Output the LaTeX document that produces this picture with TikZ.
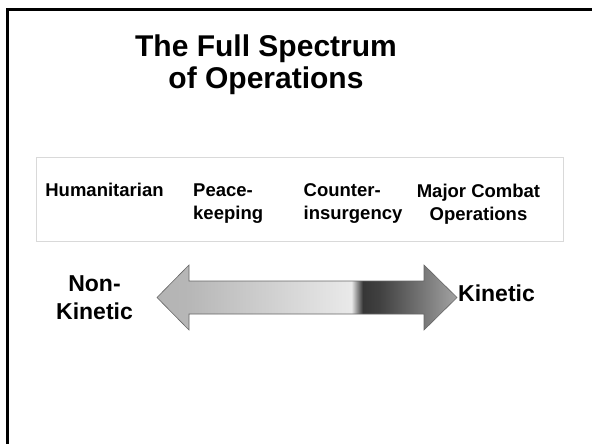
\documentclass[tikz,border=0pt]{standalone}
\usepackage{fontspec}
\setmainfont{Liberation Sans}
\usepackage{xcolor}
\usepackage{tikz}
\usetikzlibrary{positioning,calc}

\definecolor{headleft}{HTML}{B3B3B3}
\definecolor{shaftlight}{HTML}{E8E8E8}
\definecolor{shaftdark}{HTML}{363636}
\definecolor{shaftmid}{HTML}{787878}
\definecolor{headright}{HTML}{A3A3A3}
\definecolor{boxline}{HTML}{D9D9D9}

% horizontal shading, the path maps onto 25bp--75bp
\pgfdeclarehorizontalshading{spectrum}{100bp}{color(0bp)=(headleft); color(25bp)=(headleft); color(30.4bp)=(headleft!95!white); color(56.6bp)=(shaftlight); color(57.4bp)=(shaftlight!95!white); color(59.3bp)=(shaftdark); color(62bp)=(shaftdark!95!white); color(69.5bp)=(shaftmid); color(75bp)=(headright); color(100bp)=(headright)}

\begin{document}
\begin{tikzpicture}[x=1pt, y=-1pt,
    title/.style={font=\fontsize{30}{31.5}\selectfont\bfseries, align=center, inner sep=0},
    phase/.style={font=\fontsize{18.5}{23}\selectfont\bfseries, inner sep=0},
    effect/.style={font=\fontsize{23}{28}\selectfont\bfseries, align=center, inner sep=0}]
    \useasboundingbox (0,0) rectangle (592,444);

    % Slide frame (clipped on right and bottom)
    \draw[line width=3pt] (7.5,444) -- (7.5,10) -- (592,10);

    % Title
    \node[title] (heading) at (266,64.5) {The Full Spectrum\\of Operations};

    % Operation types
    \draw[boxline, line width=0.8pt] (36,157) rectangle (563,241);
    \node[phase] (humanitarian) at (104.5,190) {Humanitarian};
    \node[phase, align=left, anchor=west] (peace) at (193,204) {Peace-\\keeping};
    \node[phase, align=left, anchor=west] (counter) at (303.5,204) {Counter-\\insurgency};
    \node[phase, align=center] (combat) at (478.5,204) {Major Combat\\Operations};

    % Spectrum arrow
    \draw[gray!80!black, line width=0.6pt, shading=spectrum]
        (157,297.5) -- (189,265) -- (189,281) -- (424,281) -- (424,265)
        -- (457,297.5) -- (424,330) -- (424,314) -- (189,314) -- (189,330) -- cycle;
    \node[effect] (nonkinetic) at (94.5,297.5) {Non-\\Kinetic};
    \node[effect] (kinetic) at (496.5,293.5) {Kinetic};
\end{tikzpicture}
\end{document}
